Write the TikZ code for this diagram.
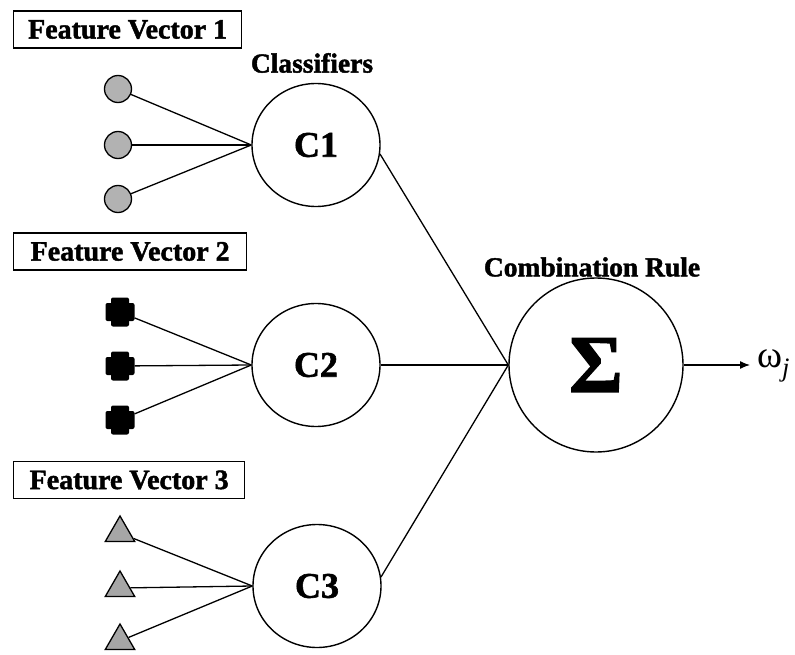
\documentclass[tikz,border=0pt]{standalone}
\usepackage{fontspec}
\setmainfont{Liberation Serif}[BoldFeatures={FakeBold=1.6}]
\usetikzlibrary{shapes.geometric,arrows.meta}
\begin{document}
\begin{tikzpicture}[x=1pt,y=-1pt,
  lbl/.style={font=\fontsize{27.5}{30}\selectfont\bfseries, inner sep=0pt},
  fvbox/.style={draw, line width=1.3pt, minimum height=37pt, anchor=west,
    inner sep=0pt, font=\fontsize{28}{30}\selectfont\bfseries},
  clf/.style={draw, line width=1.4pt, ellipse, minimum width=128pt,
    minimum height=123pt, inner sep=0pt, font=\fontsize{36}{40}\selectfont\bfseries},
  dotin/.style={draw, line width=1.3pt, circle, fill=black!30, minimum size=27pt, inner sep=0pt},
  triin/.style={draw, line width=1.3pt, regular polygon, regular polygon sides=3,
    fill=black!35, minimum size=34pt, inner sep=0pt},
  plusin/.style={minimum width=29pt, minimum height=29pt, inner sep=0pt,
    path picture={
      \fill[black, rounded corners=2pt] ([xshift=-14.5pt,yshift=-9pt]path picture bounding box.center) rectangle ++(29pt,18pt);
      \fill[black, rounded corners=2pt] ([xshift=-9pt,yshift=-14.5pt]path picture bounding box.center) rectangle ++(18pt,29pt);
    }},
  wire/.style={line width=1.3pt}
]
\useasboundingbox (0,0) rectangle (795,655);

% feature vector labels
\node[fvbox, minimum width=228pt] (fv1) at (13,29.5) {Feature Vector 1};
\node[fvbox, minimum width=233pt] (fv2) at (13,251.5) {Feature Vector 2};
\node[fvbox, minimum width=231pt] (fv3) at (13,480) {Feature Vector 3};

% classifiers
\node[lbl] (clab) at (312,63) {Classifiers};
\node[clf] (c1) at (316,145) {C1};
\node[clf] (c2) at (316,365) {C2};
\node[clf] (c3) at (317,586) {C3};

% combination rule
\node[lbl] (rlab) at (592,267) {Combination Rule};
\node[draw, line width=1.4pt, circle, minimum size=174pt, inner sep=0pt,
  font=\fontsize{82}{82}\selectfont\bfseries] (sig) at (596,365) {Σ};
\node[inner sep=0pt, anchor=west, font=\fontsize{38}{40}\selectfont] (out) at (757,366)
  {ω\textsubscript{\itshape j}};
\draw[wire, -{Latex[length=10pt,width=8pt]}, shorten >=7pt] (sig.east) -- (sig.east -| out.west);

% feature vector 1: circles
\node[dotin] (a1) at (118,89) {};
\node[dotin] (a2) at (118,145) {};
\node[dotin] (a3) at (118,199) {};
% feature vector 2: crosses
\node[plusin] (b1) at (120,312) {};
\node[plusin] (b2) at (120,366) {};
\node[plusin] (b3) at (120,420) {};
% feature vector 3: triangles
\node[triin] (t1) at (120,533) {};
\node[triin] (t2) at (120,588) {};
\node[triin] (t3) at (120,641) {};

% inputs to classifiers
\foreach \n in {a1,a2,a3} \draw[wire] (\n) -- (c1.west);
\foreach \n in {b1,b2,b3} \draw[wire] (\n) -- (c2.west);
\foreach \n in {t1,t2,t3} \draw[wire] (\n) -- (c3.west);

% classifiers to combination rule
\draw[wire] (c1.-8) -- (sig.west);
\draw[wire] (c2.east) -- (sig.west);
\draw[wire] (c3.8) -- (sig.west);
\end{tikzpicture}
\end{document}
